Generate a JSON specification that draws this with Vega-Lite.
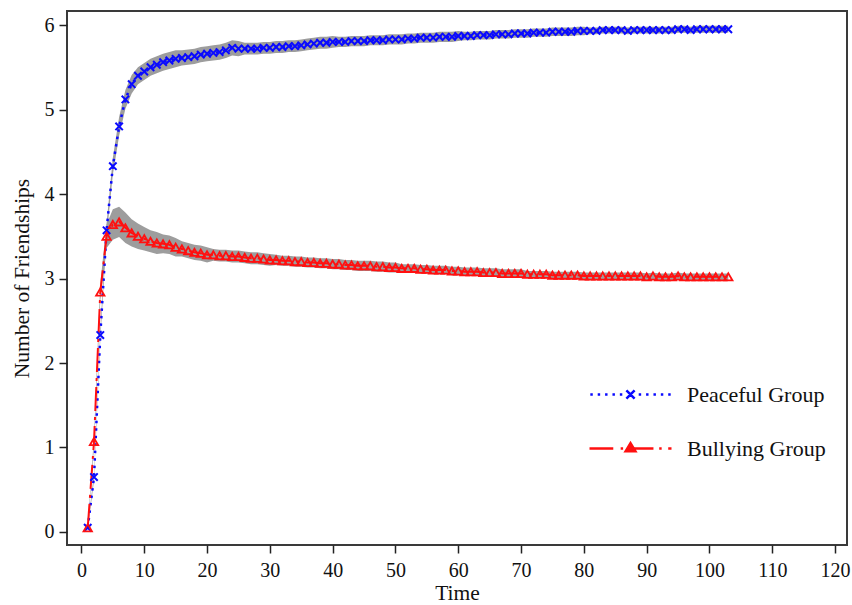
{
  "$schema": "https://vega.github.io/schema/vega-lite/v6.json",
  "width": 780,
  "height": 534,
  "autosize": "none",
  "padding": {"left": 67, "top": 11, "right": 5, "bottom": 60},
  "background": "white",
  "config": {
    "font": "Liberation Serif",
    "view": {"stroke": "#3a3a3a", "strokeWidth": 2},
    "axis": {
      "grid": false,
      "domain": false,
      "tickColor": "#222",
      "tickWidth": 1.5,
      "tickSize": 8,
      "labelColor": "#111",
      "labelFontSize": 20,
      "titleColor": "#111",
      "titleFontSize": 21.5,
      "titleFontWeight": "normal"
    }
  },
  "datasets": {
    "peaceful": [
      {"t":1,"v":0.05,"lo":0.03,"hi":0.07},{"t":2,"v":0.65,"lo":0.61,"hi":0.69},{"t":3,"v":2.33,"lo":2.27,"hi":2.39},
      {"t":4,"v":3.57,"lo":3.49,"hi":3.65},{"t":5,"v":4.33,"lo":4.23,"hi":4.43},{"t":6,"v":4.8,"lo":4.69,"hi":4.91},
      {"t":7,"v":5.12,"lo":5.01,"hi":5.23},{"t":8,"v":5.3,"lo":5.19,"hi":5.41},{"t":9,"v":5.4,"lo":5.3,"hi":5.5},
      {"t":10,"v":5.45,"lo":5.35,"hi":5.55},{"t":11,"v":5.5,"lo":5.4,"hi":5.6},{"t":12,"v":5.53,"lo":5.43,"hi":5.63},
      {"t":13,"v":5.56,"lo":5.46,"hi":5.66},{"t":14,"v":5.58,"lo":5.48,"hi":5.68},{"t":15,"v":5.6,"lo":5.5,"hi":5.7},
      {"t":16,"v":5.61,"lo":5.52,"hi":5.7},{"t":17,"v":5.62,"lo":5.53,"hi":5.71},{"t":18,"v":5.63,"lo":5.54,"hi":5.72},
      {"t":19,"v":5.65,"lo":5.56,"hi":5.74},{"t":20,"v":5.66,"lo":5.57,"hi":5.75},{"t":21,"v":5.67,"lo":5.58,"hi":5.76},
      {"t":22,"v":5.68,"lo":5.59,"hi":5.77},{"t":23,"v":5.7,"lo":5.61,"hi":5.79},{"t":24,"v":5.73,"lo":5.64,"hi":5.82},
      {"t":25,"v":5.72,"lo":5.63,"hi":5.81},{"t":26,"v":5.72,"lo":5.65,"hi":5.79},{"t":27,"v":5.72,"lo":5.65,"hi":5.79},
      {"t":28,"v":5.72,"lo":5.65,"hi":5.79},{"t":29,"v":5.73,"lo":5.66,"hi":5.8},{"t":30,"v":5.73,"lo":5.66,"hi":5.8},
      {"t":31,"v":5.74,"lo":5.67,"hi":5.81},{"t":32,"v":5.74,"lo":5.67,"hi":5.81},{"t":33,"v":5.75,"lo":5.68,"hi":5.82},
      {"t":34,"v":5.75,"lo":5.68,"hi":5.82},{"t":35,"v":5.76,"lo":5.69,"hi":5.83},{"t":36,"v":5.77,"lo":5.7,"hi":5.84},
      {"t":37,"v":5.78,"lo":5.71,"hi":5.85},{"t":38,"v":5.79,"lo":5.72,"hi":5.86},{"t":39,"v":5.79,"lo":5.72,"hi":5.86},
      {"t":40,"v":5.8,"lo":5.73,"hi":5.87},{"t":41,"v":5.8,"lo":5.74,"hi":5.86},{"t":42,"v":5.8,"lo":5.74,"hi":5.86},
      {"t":43,"v":5.81,"lo":5.75,"hi":5.87},{"t":44,"v":5.81,"lo":5.75,"hi":5.87},{"t":45,"v":5.81,"lo":5.75,"hi":5.87},
      {"t":46,"v":5.82,"lo":5.76,"hi":5.88},{"t":47,"v":5.82,"lo":5.76,"hi":5.88},{"t":48,"v":5.82,"lo":5.76,"hi":5.88},
      {"t":49,"v":5.83,"lo":5.77,"hi":5.89},{"t":50,"v":5.83,"lo":5.77,"hi":5.89},{"t":51,"v":5.83,"lo":5.77,"hi":5.89},
      {"t":52,"v":5.84,"lo":5.78,"hi":5.9},{"t":53,"v":5.84,"lo":5.78,"hi":5.9},{"t":54,"v":5.85,"lo":5.79,"hi":5.91},
      {"t":55,"v":5.85,"lo":5.79,"hi":5.91},{"t":56,"v":5.85,"lo":5.79,"hi":5.91},{"t":57,"v":5.86,"lo":5.8,"hi":5.92},
      {"t":58,"v":5.86,"lo":5.8,"hi":5.92},{"t":59,"v":5.86,"lo":5.8,"hi":5.92},{"t":60,"v":5.87,"lo":5.81,"hi":5.93},
      {"t":61,"v":5.87,"lo":5.82,"hi":5.92},{"t":62,"v":5.87,"lo":5.82,"hi":5.92},{"t":63,"v":5.88,"lo":5.83,"hi":5.93},
      {"t":64,"v":5.88,"lo":5.83,"hi":5.93},{"t":65,"v":5.88,"lo":5.83,"hi":5.93},{"t":66,"v":5.89,"lo":5.84,"hi":5.94},
      {"t":67,"v":5.89,"lo":5.84,"hi":5.94},{"t":68,"v":5.89,"lo":5.84,"hi":5.94},{"t":69,"v":5.9,"lo":5.85,"hi":5.95},
      {"t":70,"v":5.9,"lo":5.85,"hi":5.95},{"t":71,"v":5.9,"lo":5.85,"hi":5.95},{"t":72,"v":5.91,"lo":5.86,"hi":5.96},
      {"t":73,"v":5.91,"lo":5.86,"hi":5.96},{"t":74,"v":5.91,"lo":5.86,"hi":5.96},{"t":75,"v":5.92,"lo":5.87,"hi":5.97},
      {"t":76,"v":5.92,"lo":5.87,"hi":5.97},{"t":77,"v":5.92,"lo":5.87,"hi":5.97},{"t":78,"v":5.92,"lo":5.87,"hi":5.97},
      {"t":79,"v":5.93,"lo":5.88,"hi":5.98},{"t":80,"v":5.93,"lo":5.88,"hi":5.98},{"t":81,"v":5.93,"lo":5.89,"hi":5.97},
      {"t":82,"v":5.93,"lo":5.89,"hi":5.97},{"t":83,"v":5.94,"lo":5.9,"hi":5.98},{"t":84,"v":5.94,"lo":5.9,"hi":5.98},
      {"t":85,"v":5.94,"lo":5.9,"hi":5.98},{"t":86,"v":5.94,"lo":5.9,"hi":5.98},{"t":87,"v":5.93,"lo":5.89,"hi":5.97},
      {"t":88,"v":5.94,"lo":5.9,"hi":5.98},{"t":89,"v":5.94,"lo":5.9,"hi":5.98},{"t":90,"v":5.94,"lo":5.9,"hi":5.98},
      {"t":91,"v":5.94,"lo":5.9,"hi":5.98},{"t":92,"v":5.94,"lo":5.9,"hi":5.98},{"t":93,"v":5.94,"lo":5.9,"hi":5.98},
      {"t":94,"v":5.94,"lo":5.9,"hi":5.98},{"t":95,"v":5.95,"lo":5.91,"hi":5.99},{"t":96,"v":5.95,"lo":5.91,"hi":5.99},
      {"t":97,"v":5.94,"lo":5.9,"hi":5.98},{"t":98,"v":5.95,"lo":5.91,"hi":5.99},{"t":99,"v":5.95,"lo":5.91,"hi":5.99},
      {"t":100,"v":5.95,"lo":5.91,"hi":5.99},{"t":101,"v":5.95,"lo":5.91,"hi":5.99},{"t":102,"v":5.95,"lo":5.91,"hi":5.99},
      {"t":103,"v":5.95,"lo":5.91,"hi":5.99}
    ],
    "bullying": [
      {"t":1,"v":0.05,"lo":0.03,"hi":0.07},{"t":2,"v":1.07,"lo":1.01,"hi":1.13},{"t":3,"v":2.84,"lo":2.74,"hi":2.94},
      {"t":4,"v":3.5,"lo":3.36,"hi":3.64},{"t":5,"v":3.64,"lo":3.46,"hi":3.82},{"t":6,"v":3.67,"lo":3.49,"hi":3.85},
      {"t":7,"v":3.6,"lo":3.42,"hi":3.78},{"t":8,"v":3.54,"lo":3.38,"hi":3.7},{"t":9,"v":3.5,"lo":3.35,"hi":3.65},
      {"t":10,"v":3.47,"lo":3.33,"hi":3.61},{"t":11,"v":3.44,"lo":3.31,"hi":3.57},{"t":12,"v":3.42,"lo":3.29,"hi":3.55},
      {"t":13,"v":3.41,"lo":3.3,"hi":3.52},{"t":14,"v":3.4,"lo":3.29,"hi":3.51},{"t":15,"v":3.37,"lo":3.26,"hi":3.48},
      {"t":16,"v":3.35,"lo":3.26,"hi":3.44},{"t":17,"v":3.33,"lo":3.24,"hi":3.42},{"t":18,"v":3.31,"lo":3.22,"hi":3.4},
      {"t":19,"v":3.3,"lo":3.21,"hi":3.39},{"t":20,"v":3.28,"lo":3.19,"hi":3.37},{"t":21,"v":3.28,"lo":3.21,"hi":3.35},
      {"t":22,"v":3.27,"lo":3.2,"hi":3.34},{"t":23,"v":3.27,"lo":3.2,"hi":3.34},{"t":24,"v":3.26,"lo":3.19,"hi":3.33},
      {"t":25,"v":3.26,"lo":3.19,"hi":3.33},{"t":26,"v":3.25,"lo":3.18,"hi":3.32},{"t":27,"v":3.24,"lo":3.17,"hi":3.31},
      {"t":28,"v":3.24,"lo":3.17,"hi":3.31},{"t":29,"v":3.23,"lo":3.16,"hi":3.3},{"t":30,"v":3.22,"lo":3.15,"hi":3.29},
      {"t":31,"v":3.22,"lo":3.16,"hi":3.28},{"t":32,"v":3.21,"lo":3.15,"hi":3.27},{"t":33,"v":3.21,"lo":3.15,"hi":3.27},
      {"t":34,"v":3.2,"lo":3.14,"hi":3.26},{"t":35,"v":3.2,"lo":3.14,"hi":3.26},{"t":36,"v":3.19,"lo":3.13,"hi":3.25},
      {"t":37,"v":3.19,"lo":3.13,"hi":3.25},{"t":38,"v":3.18,"lo":3.12,"hi":3.24},{"t":39,"v":3.18,"lo":3.12,"hi":3.24},
      {"t":40,"v":3.17,"lo":3.11,"hi":3.23},{"t":41,"v":3.17,"lo":3.11,"hi":3.23},{"t":42,"v":3.16,"lo":3.1,"hi":3.22},
      {"t":43,"v":3.16,"lo":3.1,"hi":3.22},{"t":44,"v":3.15,"lo":3.09,"hi":3.21},{"t":45,"v":3.15,"lo":3.09,"hi":3.21},
      {"t":46,"v":3.15,"lo":3.09,"hi":3.21},{"t":47,"v":3.14,"lo":3.08,"hi":3.2},{"t":48,"v":3.14,"lo":3.08,"hi":3.2},
      {"t":49,"v":3.13,"lo":3.07,"hi":3.19},{"t":50,"v":3.13,"lo":3.07,"hi":3.19},{"t":51,"v":3.12,"lo":3.07,"hi":3.17},
      {"t":52,"v":3.12,"lo":3.07,"hi":3.17},{"t":53,"v":3.12,"lo":3.07,"hi":3.17},{"t":54,"v":3.11,"lo":3.06,"hi":3.16},
      {"t":55,"v":3.11,"lo":3.06,"hi":3.16},{"t":56,"v":3.1,"lo":3.05,"hi":3.15},{"t":57,"v":3.1,"lo":3.05,"hi":3.15},
      {"t":58,"v":3.1,"lo":3.05,"hi":3.15},{"t":59,"v":3.09,"lo":3.04,"hi":3.14},{"t":60,"v":3.09,"lo":3.04,"hi":3.14},
      {"t":61,"v":3.08,"lo":3.03,"hi":3.13},{"t":62,"v":3.08,"lo":3.03,"hi":3.13},{"t":63,"v":3.08,"lo":3.03,"hi":3.13},
      {"t":64,"v":3.07,"lo":3.02,"hi":3.12},{"t":65,"v":3.07,"lo":3.02,"hi":3.12},{"t":66,"v":3.07,"lo":3.02,"hi":3.12},
      {"t":67,"v":3.06,"lo":3.01,"hi":3.11},{"t":68,"v":3.06,"lo":3.01,"hi":3.11},{"t":69,"v":3.06,"lo":3.01,"hi":3.11},
      {"t":70,"v":3.06,"lo":3.01,"hi":3.11},{"t":71,"v":3.05,"lo":3.01,"hi":3.09},{"t":72,"v":3.05,"lo":3.01,"hi":3.09},
      {"t":73,"v":3.05,"lo":3.01,"hi":3.09},{"t":74,"v":3.05,"lo":3.01,"hi":3.09},{"t":75,"v":3.04,"lo":3.0,"hi":3.08},
      {"t":76,"v":3.04,"lo":3.0,"hi":3.08},{"t":77,"v":3.04,"lo":3.0,"hi":3.08},{"t":78,"v":3.04,"lo":3.0,"hi":3.08},
      {"t":79,"v":3.04,"lo":3.0,"hi":3.08},{"t":80,"v":3.03,"lo":2.99,"hi":3.07},{"t":81,"v":3.03,"lo":2.99,"hi":3.07},
      {"t":82,"v":3.03,"lo":2.99,"hi":3.07},{"t":83,"v":3.03,"lo":2.99,"hi":3.07},{"t":84,"v":3.03,"lo":2.99,"hi":3.07},
      {"t":85,"v":3.03,"lo":2.99,"hi":3.07},{"t":86,"v":3.03,"lo":2.99,"hi":3.07},{"t":87,"v":3.03,"lo":2.99,"hi":3.07},
      {"t":88,"v":3.03,"lo":2.99,"hi":3.07},{"t":89,"v":3.03,"lo":2.99,"hi":3.07},{"t":90,"v":3.02,"lo":2.98,"hi":3.06},
      {"t":91,"v":3.03,"lo":2.99,"hi":3.07},{"t":92,"v":3.02,"lo":2.98,"hi":3.06},{"t":93,"v":3.02,"lo":2.98,"hi":3.06},
      {"t":94,"v":3.02,"lo":2.98,"hi":3.06},{"t":95,"v":3.03,"lo":2.99,"hi":3.07},{"t":96,"v":3.02,"lo":2.98,"hi":3.06},
      {"t":97,"v":3.02,"lo":2.98,"hi":3.06},{"t":98,"v":3.02,"lo":2.98,"hi":3.06},{"t":99,"v":3.02,"lo":2.98,"hi":3.06},
      {"t":100,"v":3.02,"lo":2.98,"hi":3.06},{"t":101,"v":3.02,"lo":2.98,"hi":3.06},{"t":102,"v":3.02,"lo":2.98,"hi":3.06},
      {"t":103,"v":3.02,"lo":2.98,"hi":3.06}
    ]
  },
  "encoding": {
    "x": {
      "field": "t",
      "type": "quantitative",
      "scale": {"domain": [-2.3, 121.9], "nice": false, "zero": false},
      "axis": {
        "title": "Time",
        "values": [0, 10, 20, 30, 40, 50, 60, 70, 80, 90, 100, 110, 120],
        "format": "d",
        "labelPadding": 7,
        "titlePadding": 2
      }
    }
  },
  "layer": [
    {
      "data": {"name": "peaceful"},
      "mark": {"type": "area", "color": "#9d9d9d", "opacity": 1},
      "encoding": {
        "y": {"field": "lo", "type": "quantitative"},
        "y2": {"field": "hi"}
      }
    },
    {
      "data": {"name": "bullying"},
      "mark": {"type": "area", "color": "#9d9d9d", "opacity": 1},
      "encoding": {
        "y": {"field": "lo", "type": "quantitative"},
        "y2": {"field": "hi"}
      }
    },
    {
      "data": {"name": "peaceful"},
      "mark": {"type": "line", "strokeWidth": 2.5, "strokeDash": [2.5, 5]},
      "encoding": {
        "y": {
          "field": "v",
          "type": "quantitative",
          "scale": {"domain": [-0.154, 6.166], "nice": false, "zero": false},
          "axis": {
            "title": "Number of Friendships",
            "values": [0, 1, 2, 3, 4, 5, 6],
            "format": "d",
            "labelPadding": 5,
            "titlePadding": 11
          }
        },
        "color": {
          "datum": "Peaceful Group",
          "scale": {"domain": ["Peaceful Group", "Bullying Group"], "range": ["#0a0aff", "#ff1010"]},
          "legend": {
            "title": null,
            "orient": "none",
            "legendX": 521,
            "legendY": 341,
            "labelFontSize": 22,
            "labelColor": "#111",
            "labelOffset": 14,
            "symbolSize": 6724,
            "symbolStrokeWidth": 2.5,
            "rowPadding": -2,
            "encode": {
              "symbols": {
                "update": {
                  "shape": {"signal": "datum.value === 'Peaceful Group' ? 'M-0.98,0h0.06M-0.8,0h0.06M-0.62,0h0.06M-0.44,0h0.06M-0.26,0h0.06M0.2,0h0.06M0.38,0h0.06M0.56,0h0.06M0.74,0h0.06M0.92,0h0.06M-0.1,-0.1L0.1,0.1M-0.1,0.1L0.1,-0.1' : 'M-1,0H-0.42M-0.24,0H-0.18M-0.12,0.07L0,-0.13L0.12,0.07ZM0.1,0H0.56M0.7,0H0.76M0.92,0H1'"},
                  "fill": {"scale": "color", "field": "value"},
                  "stroke": {"scale": "color", "field": "value"},
                  "strokeWidth": {"value": 2.5},
                  "opacity": {"value": 1}
                }
              }
            }
          }
        }
      }
    },
    {
      "data": {"name": "bullying"},
      "mark": {"type": "line", "strokeWidth": 2, "strokeDash": [24, 6, 3, 6]},
      "encoding": {
        "y": {"field": "v", "type": "quantitative"},
        "color": {"datum": "Bullying Group"}
      }
    },
    {
      "data": {"name": "peaceful"},
      "mark": {"type": "point", "shape": "M-1,-1L1,1M-1,1L1,-1", "filled": false, "size": 55, "strokeWidth": 2, "opacity": 1},
      "encoding": {
        "y": {"field": "v", "type": "quantitative"},
        "color": {"datum": "Peaceful Group"}
      }
    },
    {
      "data": {"name": "bullying"},
      "mark": {"type": "point", "shape": "triangle-up", "filled": false, "size": 70, "strokeWidth": 1.8, "opacity": 1},
      "encoding": {
        "y": {"field": "v", "type": "quantitative"},
        "color": {"datum": "Bullying Group"}
      }
    }
  ]
}
